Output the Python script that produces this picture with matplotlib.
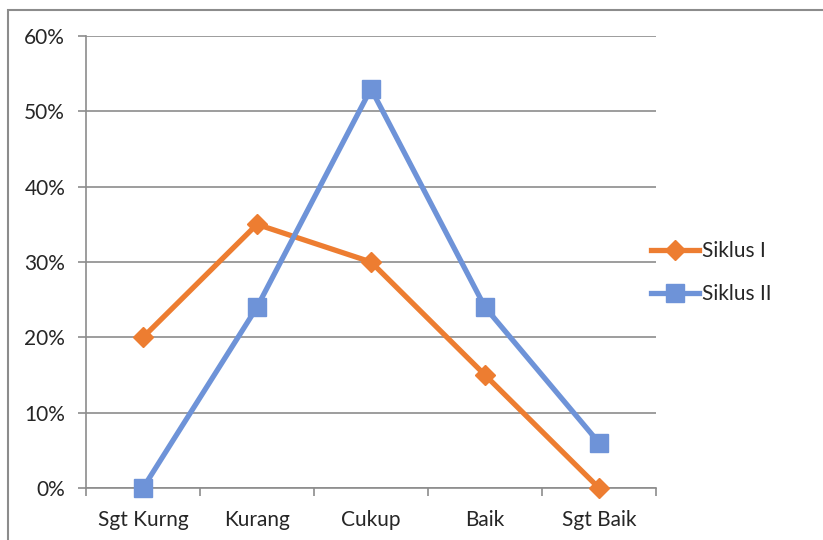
import matplotlib.pyplot as plt
from matplotlib.patches import Rectangle
from matplotlib.ticker import FuncFormatter, MultipleLocator

kategori = ["Sgt Kurng", "Kurang", "Cukup", "Baik", "Sgt Baik"]
siklus_1 = [20, 35, 30, 15, 0]
siklus_2 = [0, 24, 53, 24, 6]

plt.rcParams["font.family"] = ["Lato", "DejaVu Sans"]
abu = "#8c8c8c"
teks = "#262626"
fs = 15

fig = plt.figure(figsize=(8.23, 5.40), dpi=100)
ax = fig.add_axes([86 / 823, 1 - 488 / 540, 570 / 823, 452 / 540])

x = list(range(len(kategori)))
ax.plot(x, siklus_1, color="#ED7D31", lw=3.8, marker="D", ms=10.5,
        label="Siklus I", zorder=3, clip_on=False)
ax.plot(x, siklus_2, color="#6E93D8", lw=3.8, marker="s", ms=13,
        label="Siklus II", zorder=3, clip_on=False)

ax.set_xlim(-0.5, 4.5)
ax.set_ylim(0, 60)
ax.yaxis.set_major_locator(MultipleLocator(10))
ax.yaxis.set_major_formatter(FuncFormatter(lambda v, p: f"{v:.0f}%"))
ax.grid(axis="y", color=abu, lw=1.2)
ax.set_axisbelow(True)

# kategori di tengah, tanda centang di batas antar kategori
ax.set_xticks(x)
ax.set_xticklabels(kategori)
ax.set_xticks([i - 0.5 for i in range(len(kategori) + 1)], minor=True)
ax.tick_params(axis="x", which="major", length=0, pad=16, labelsize=fs,
               labelcolor=teks)
ax.tick_params(axis="x", which="minor", length=6, width=1.2, color=abu,
               direction="out")
ax.tick_params(axis="y", length=6, width=1.2, color=abu, pad=9,
               labelsize=fs, labelcolor=teks)

for s in ["top", "right"]:
    ax.spines[s].set_visible(False)
for s in ["left", "bottom"]:
    ax.spines[s].set_color(abu)
    ax.spines[s].set_linewidth(1.2)

ax.legend(loc="center left", bbox_to_anchor=(0.958, 0.477),
          frameon=False, fontsize=fs, handlelength=2.3, handletextpad=0.15,
          labelspacing=1.1, labelcolor=teks)

# bingkai grafik
fig.patches.append(Rectangle((8 / 823, -0.2), 1.5, 1.2 - 10 / 540,
                             transform=fig.transFigure, fill=False,
                             edgecolor=abu, lw=1.5))

fig.savefig("out.png", dpi=100)
